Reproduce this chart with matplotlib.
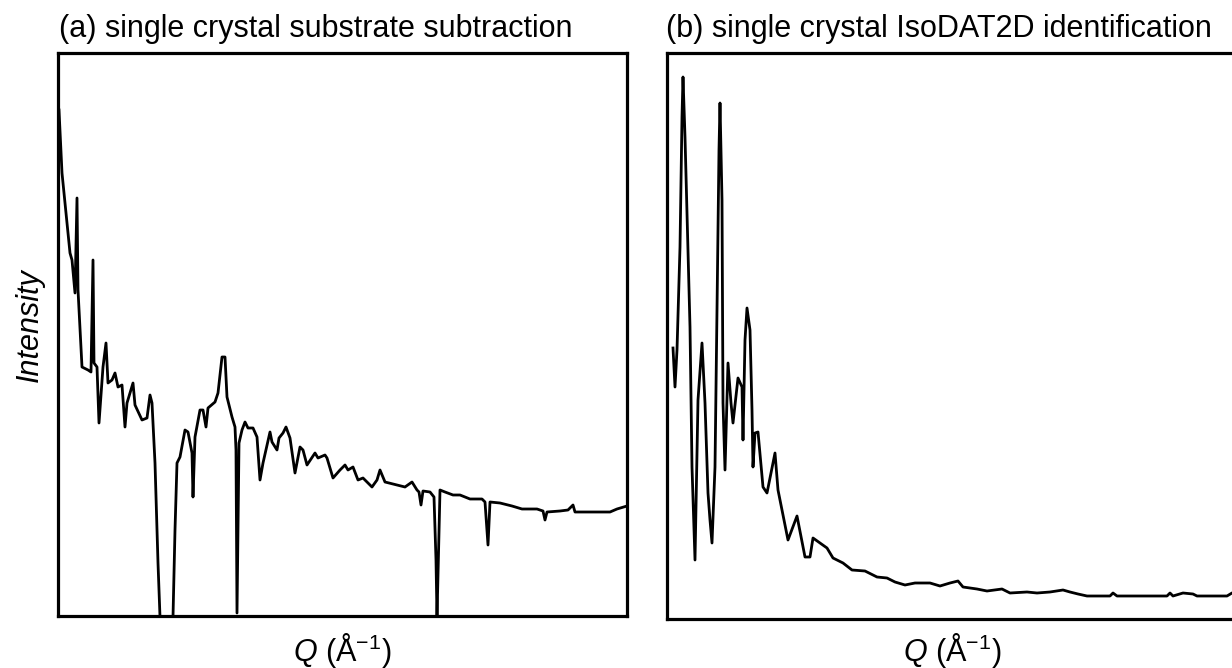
import matplotlib.pyplot as plt

plt.rcParams['font.family'] = ['Liberation Sans', 'DejaVu Sans']
plt.rcParams['mathtext.fontset'] = 'custom'
plt.rcParams['mathtext.rm'] = 'Liberation Sans'
plt.rcParams['mathtext.it'] = 'Liberation Sans:italic'

# (a) pattern after substrate subtraction, arbitrary units (no scale on axes)
q_a = [1, 4, 12, 14, 17, 19, 20, 24, 30, 33, 35, 36, 39, 41, 45, 48, 50, 54, 57, 60,
       64, 67, 69, 75, 77, 84, 89, 92, 94, 97, 100, 102, 108, 115, 117, 119, 122, 127, 130, 134,
       135, 137, 142, 145, 148, 150, 157, 160, 164, 167, 169, 174, 177, 178, 179, 181, 184, 187, 190, 195,
       199, 202, 205, 212, 214, 219, 221, 225, 228, 232, 237, 242, 245, 249, 257, 260, 267, 269, 275, 282,
       287, 290, 295, 300, 305, 314, 319, 322, 327, 339, 347, 354, 359, 361, 363, 365, 372, 376, 378, 379,
       382, 387, 395, 402, 412, 424, 427, 430, 432, 442, 454, 464, 479, 485, 487, 489, 502, 510, 515, 517,
       525, 552, 559, 569]
int_a = [506, 443, 363, 356, 323, 418, 326, 249, 246, 244, 356, 253, 249, 193, 249, 273, 233, 236, 243, 229,
         231, 189, 213, 233, 211, 196, 198, 221, 213, 153, 53, -1, -80, -1, 86, 153, 159, 186, 184, 163,
         119, 179, 206, 206, 189, 208, 214, 223, 259, 259, 219, 199, 189, 166, 3, 173, 186, 194, 188, 188,
         179, 136, 153, 184, 174, 166, 178, 183, 189, 178, 143, 169, 166, 151, 163, 158, 161, 158, 138, 146,
         151, 146, 149, 136, 138, 129, 136, 146, 134, 131, 129, 134, 126, 124, 111, 125, 124, 119, 56, -1,
         126, 124, 121, 121, 117, 117, 114, 71, 114, 113, 110, 107, 107, 105, 96, 104, 105, 106, 111, 104,
         104, 104, 107, 110]

# (b) pattern from IsoDAT2D identification
q_b = [6, 8, 10, 13, 15, 16, 18, 20, 23, 25, 28, 31, 35, 38, 41, 43, 45, 48, 50, 52,
       53, 55, 56, 58, 61, 64, 66, 71, 75, 76, 78, 80, 83, 85, 86, 88, 91, 96, 100, 108,
       111, 121, 130, 138, 143, 146, 160, 166, 176, 185, 198, 210, 220, 228, 238, 248, 263, 273, 283, 291,
       296, 310, 320, 335, 343, 360, 370, 383, 396, 403, 411, 420, 443, 446, 450, 500, 503, 506, 516, 526,
       530, 560, 565, 569]
int_b = [271, 232, 269, 372, 502, 542, 482, 406, 292, 152, 59, 219, 276, 216, 126, 99, 76, 152, 309, 469,
         516, 419, 216, 149, 256, 216, 196, 241, 232, 179, 279, 311, 289, 209, 152, 186, 187, 132, 126, 166,
         129, 79, 103, 62, 62, 81, 71, 61, 56, 49, 48, 42, 41, 37, 34, 36, 36, 33, 36, 38,
         32, 30, 28, 30, 26, 27, 26, 27, 29, 27, 25, 23, 23, 26, 23, 23, 26, 23, 26, 25,
         23, 23, 26, 27]

W, H = 1232, 668
fig = plt.figure(figsize=(W / 100, H / 100), dpi=100)

ax_a = fig.add_axes([58 / W, 52 / H, 569 / W, 563 / H])
ax_b = fig.add_axes([667 / W, 49 / H, 569 / W, 566 / H])

for ax, q, inten, ymax in [(ax_a, q_a, int_a, 563), (ax_b, q_b, int_b, 566)]:
    ax.plot(q, inten, color='black', lw=2.0, solid_joinstyle='round')
    ax.set_xlim(0, 569)
    ax.set_ylim(0, ymax)
    ax.set_xticks([])
    ax.set_yticks([])
    for s in ax.spines.values():
        s.set_linewidth(2.3)

xlab = r'$Q$ (Å$^{\mathrm{-1}}$)'
fig.text(342 / W, 1 - 650 / H, xlab, fontsize=22, ha='center', va='center')
fig.text(952 / W, 1 - 650 / H, xlab, fontsize=22, ha='center', va='center')
fig.text(30 / W, 1 - 325 / H, 'Intensity', fontsize=22, style='italic',
         rotation=90, ha='center', va='center')

fig.text(59 / W, 1 - 29 / H, '(a) single crystal substrate subtraction', fontsize=22, va='center', ha='left')
fig.text(666 / W, 1 - 29 / H, '(b) single crystal IsoDAT2D identification', fontsize=22, va='center', ha='left')

fig.savefig('out.png', dpi=100)
